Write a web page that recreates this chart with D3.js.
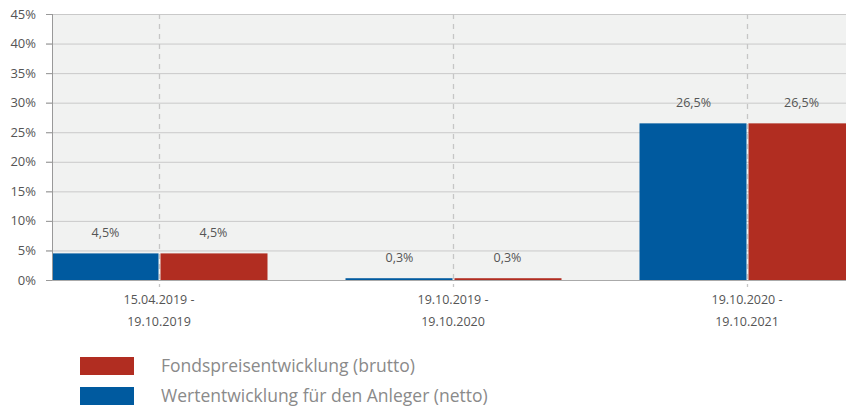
<!DOCTYPE html>
<html>
<head>
<meta charset="utf-8">
<script src="https://cdn.jsdelivr.net/npm/d3@7"></script>
<style>
  body { margin: 0; background: #fff; font-family: "Open Sans", "Noto Sans", sans-serif; }
  svg { display: block; }
</style>
</head>
<body>
<svg id="chart" width="846" height="407"></svg>
<script>
/* ------------------------------- data -------------------------------- */
const periods = [['15.04.2019 -', '19.10.2019'], ['19.10.2019 -', '19.10.2020'], ['19.10.2020 -', '19.10.2021']];
const netto   = [4.5, 0.3, 26.5];
const brutto  = [4.5, 0.3, 26.5];
const yTicks  = [0, 5, 10, 15, 20, 25, 30, 35, 40, 45];
const legendItems = ['Fondspreisentwicklung (brutto)', 'Wertentwicklung für den Anleger (netto)'];

const BLUE = '#005a9f', RED = '#b12d21';

/* ------------------------------- layout ------------------------------ */
const svg = d3.select('#chart');
const PLOT = {left: 52, right: 846, top: 14, bottom: 280};

const yScale = d3.scaleLinear().domain([0, 45]).range([PLOT.bottom, PLOT.top]);
const xBand  = d3.scaleBand().domain(d3.range(periods.length)).range([12, 894]).paddingInner(0);
const center = i => xBand(i) + xBand.bandwidth() / 2;
const barW   = 107;

svg.append('defs').append('clipPath').attr('id', 'plotClip')
  .append('rect')
  .attr('x', PLOT.left).attr('y', 0)
  .attr('width', PLOT.right - PLOT.left).attr('height', PLOT.bottom + 1);

svg.append('rect')
  .attr('x', PLOT.left).attr('y', PLOT.top)
  .attr('width', PLOT.right - PLOT.left).attr('height', PLOT.bottom - PLOT.top)
  .attr('fill', '#f1f2f1');

// horizontal grid
svg.append('g').selectAll('line').data(yTicks.slice(1)).join('line')
  .attr('x1', PLOT.left - 6).attr('x2', PLOT.right)
  .attr('y1', d => yScale(d) + 0.5).attr('y2', d => yScale(d) + 0.5)
  .attr('stroke', '#c9c9c9').attr('stroke-width', 1);

// vertical dashed at category centres
svg.append('g').selectAll('line').data(d3.range(periods.length)).join('line')
  .attr('x1', i => Math.round(center(i)) + 0.5).attr('x2', i => Math.round(center(i)) + 0.5)
  .attr('y1', PLOT.top).attr('y2', PLOT.bottom + 7)
  .attr('stroke', '#c6c6c6').attr('stroke-width', 1.3).attr('stroke-dasharray', '5,5');

/* ------------------------------- bars -------------------------------- */
const bars = svg.append('g').attr('clip-path', 'url(#plotClip)');
bars.selectAll('rect.netto').data(netto).join('rect')
  .attr('class', 'netto')
  .attr('x', (d, i) => center(i) - barW - 0.5)
  .attr('y', d => yScale(d))
  .attr('width', barW)
  .attr('height', d => yScale(0) - yScale(d))
  .attr('fill', BLUE);
bars.selectAll('rect.brutto').data(brutto).join('rect')
  .attr('class', 'brutto')
  .attr('x', (d, i) => center(i) + 1.5)
  .attr('y', d => yScale(d))
  .attr('width', barW)
  .attr('height', d => yScale(0) - yScale(d))
  .attr('fill', RED);

const fmt = v => d3.format('.1f')(v).replace('.', ',') + '%';
const labels = svg.append('g').attr('font-size', 12.5).attr('fill', '#555').attr('text-anchor', 'middle');
labels.selectAll('text.n').data(netto).join('text')
  .attr('x', (d, i) => center(i) - barW / 2)
  .attr('y', d => yScale(d) - 16)
  .text(fmt);
labels.selectAll('text.b').data(brutto).join('text')
  .attr('x', (d, i) => center(i) + 1 + barW / 2)
  .attr('y', d => yScale(d) - 16)
  .text(fmt);

/* ------------------------------- axes -------------------------------- */
svg.append('line')
  .attr('x1', PLOT.left - 6).attr('x2', PLOT.right)
  .attr('y1', PLOT.bottom + 0.5).attr('y2', PLOT.bottom + 0.5)
  .attr('stroke', '#aaa');
svg.append('line')
  .attr('x1', PLOT.left + 0.5).attr('x2', PLOT.left + 0.5)
  .attr('y1', PLOT.top).attr('y2', PLOT.bottom)
  .attr('stroke', '#999');

svg.append('g').selectAll('line').data(yTicks).join('line')
  .attr('x1', PLOT.left - 6).attr('x2', PLOT.left)
  .attr('y1', d => yScale(d) + 0.5).attr('y2', d => yScale(d) + 0.5)
  .attr('stroke', '#999');

svg.append('g').attr('font-size', 13).attr('fill', '#555').attr('text-anchor', 'end')
  .selectAll('text').data(yTicks).join('text')
  .attr('x', PLOT.left - 16)
  .attr('y', d => yScale(d) + 4.5)
  .text(d => d + '%');

const xl = svg.append('g').attr('font-size', 12.5).attr('fill', '#555').attr('text-anchor', 'middle');
periods.forEach((p, i) => {
  xl.append('text').attr('x', center(i)).attr('y', 304).text(p[0]);
  xl.append('text').attr('x', center(i)).attr('y', 326).text(p[1]);
});

/* ------------------------------- legend ------------------------------ */
const legColors = [RED, BLUE];
const leg = svg.append('g');
legendItems.forEach((t, i) => {
  const y = 357 + i * 30;
  leg.append('rect').attr('x', 80).attr('y', y).attr('width', 54).attr('height', 18).attr('fill', legColors[i]);
  leg.append('text').attr('x', 161).attr('y', y + 15)
    .attr('font-size', 17.5).attr('fill', '#8a8a8a').text(t);
});
</script>
</body>
</html>
